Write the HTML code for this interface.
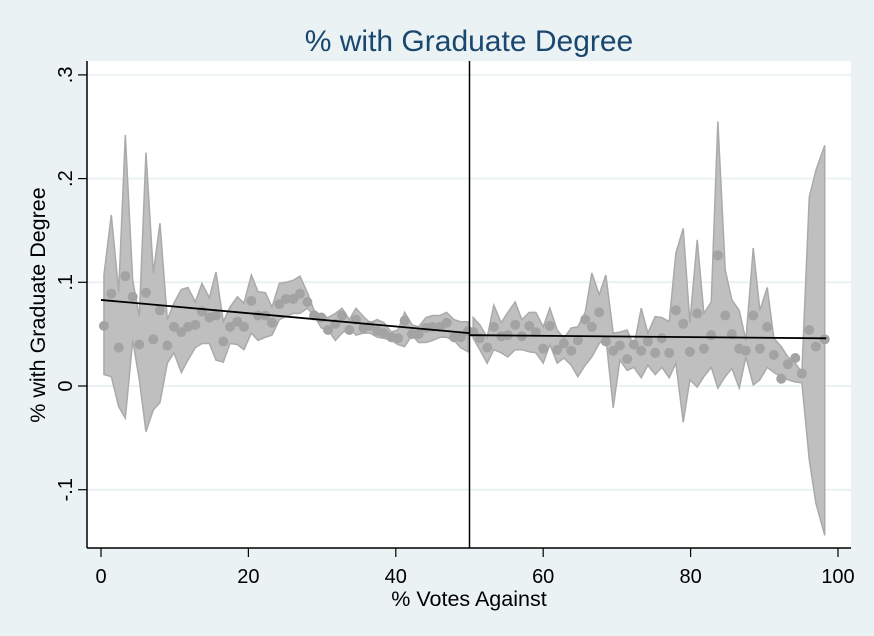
<!DOCTYPE html>
<html><head><meta charset="utf-8"><style>
body{margin:0;background:#eaf2f3;}
svg{display:block;font-family:"Liberation Sans",sans-serif;}
</style></head><body>
<svg id="chart" width="874" height="636">
<rect x="0" y="0" width="874" height="636" fill="#eaf2f3"/>
<rect x="87" y="61" width="764" height="487" fill="#ffffff"/>
<text x="469" y="51" text-anchor="middle" font-size="30" fill="#1a476f">% with Graduate Degree</text>
<text x="469" y="606" text-anchor="middle" font-size="21.5" fill="#000">% Votes Against</text>
<text transform="translate(45,305) rotate(-90)" text-anchor="middle" font-size="21.5" fill="#000">% with Graduate Degree</text>
<g id="grid"></g><g id="band"></g><g id="pts"></g><g id="fit"></g><g id="axes"></g>
</svg>
<script>
const xs=[0.4,1.4,2.4,3.3,4.3,5.2,6.1,7.1,8,9,9.9,10.9,11.8,12.8,13.7,14.7,15.6,16.6,17.5,18.5,19.4,20.4,21.3,22.3,23.2,24.2,25.1,26.1,27,28,28.9,29.9,30.8,31.8,32.7,33.7,34.6,35.6,36.5,37.5,38.4,39.4,40.3,41.2,42.2,43.1,44.1,45,46,46.9,47.9,48.8,49.8,
50.5,51.4,52.4,53.3,54.3,55.2,56.2,57.1,58.1,59,60,60.9,61.9,62.8,63.8,64.7,65.7,66.6,67.6,68.5,69.5,70.4,71.4,72.3,73.3,74.2,75.2,76.1,77.1,78,79,79.9,80.9,81.8,82.8,83.7,84.7,85.6,86.6,87.5,88.5,89.4,90.4,91.3,92.3,93.2,94.2,95.1,96.1,97,98.2];
const means=[.058,.089,.037,.106,.086,.040,.090,.045,.073,.039,.057,.052,.057,.059,.072,.066,.068,.043,.057,.062,.057,.082,.068,.068,.061,.079,.084,.084,.089,.081,.068,.066,.054,.060,.068,.054,.064,.056,.058,.053,.051,.047,.046,.063,.050,.050,.056,.057,.057,.061,.047,.047,.053,
.052,.046,.037,.057,.048,.049,.059,.048,.058,.052,.036,.058,.035,.041,.034,.044,.064,.057,.071,.043,.034,.039,.026,.040,.034,.043,.032,.046,.032,.073,.060,.033,.070,.036,.049,.126,.068,.050,.036,.034,.068,.036,.057,.030,.007,.021,.027,.012,.054,.038,.045];
const upper=[.107,.165,.091,.242,.102,.067,.225,.109,.157,.064,.080,.093,.095,.081,.099,.085,.110,.062,.076,.086,.080,.107,.091,.090,.076,.099,.100,.102,.106,.090,.073,.068,.066,.070,.075,.064,.075,.067,.061,.064,.061,.052,.054,.071,.059,.057,.066,.068,.068,.071,.064,.062,.062,
.066,.059,.047,.078,.061,.071,.081,.064,.071,.071,.057,.075,.054,.046,.056,.057,.071,.109,.088,.107,.051,.052,.054,.038,.075,.051,.067,.066,.062,.128,.152,.061,.141,.070,.081,.255,.112,.083,.073,.044,.133,.073,.095,.046,.038,.028,.022,.013,.182,.208,.232];
const lower=[.011,.009,-.020,-.031,.044,.006,-.044,-.023,-.016,.022,.032,.013,.025,.037,.041,.041,.025,.023,.041,.040,.035,.051,.044,.047,.049,.064,.067,.070,.070,.075,.068,.056,.054,.044,.051,.056,.049,.051,.051,.047,.046,.044,.040,.038,.049,.042,.042,.044,.047,.047,.044,.037,.033,
.046,.035,.022,.035,.032,.028,.035,.035,.033,.032,.022,.040,.022,.027,.020,.009,.020,.028,.041,.047,-.021,.025,.015,.018,.008,.020,.011,.018,.008,.022,-.035,.006,-.001,.009,.018,-.002,.009,.017,-.002,.028,.001,.006,.018,.013,.009,.006,.004,.003,-.071,-.113,-.144];
const fitLeft=[[0,.083],[50,.051]];
const fitRight=[[50,.049],[98.4,.046]];
const xTicks=[0,20,40,60,80,100];
const yTicks=[-.1,0,.1,.2,.3];
const yTickLabels=["-.1","0",".1",".2",".3"];
const cutoff=50;

const X=v=>101+v*7.37;
const Y=v=>386-v*1037;
const NS="http://www.w3.org/2000/svg";
function mk(tag,parent,attrs){const e=document.createElementNS(NS,tag);for(const k in attrs)e.setAttribute(k,attrs[k]);document.getElementById(parent).appendChild(e);return e;}

yTicks.forEach((t,i)=>{
  const g=mk('line','grid',{x1:87,x2:851,y1:Y(t),y2:Y(t),stroke:'#eaf2f3','stroke-width':2});
  
  
  const tk=mk('line','axes',{x1:78,x2:87,y1:Y(t),y2:Y(t),stroke:'#000','stroke-width':1.2});
  
  
  const lb=mk('text','axes',{transform:`translate(72,${Y(t)}) rotate(-90)`,'text-anchor':'middle','font-size':20});
  lb.textContent=yTickLabels[i];
  
  
});
xTicks.forEach(t=>{
  const tk=mk('line','axes',{x1:X(t),x2:X(t),y1:548,y2:557,stroke:'#000','stroke-width':1.2});
  
  
  const lb=mk('text','axes',{x:X(t),y:583,'text-anchor':'middle','font-size':20});
  lb.textContent=t;
  
  
});
const ax1=mk('line','axes',{x1:87,x2:87,y1:61,y2:548,stroke:'#000','stroke-width':1.5});


const ax2=mk('line','axes',{x1:87,x2:851,y1:548,y2:548,stroke:'#000','stroke-width':1.5});



function bandPath(i0,i1){
  let d='';
  for(let i=i0;i<=i1;i++)d+=(i===i0?'M':'L')+X(xs[i])+','+Y(upper[i]);
  for(let i=i1;i>=i0;i--)d+='L'+X(xs[i])+','+Y(lower[i]);
  return d+'Z';
}
const split=xs.findIndex(v=>v>cutoff);
[[0,split-1],[split,xs.length-1]].forEach(([a,b])=>{
  const p=mk('path','band',{d:bandPath(a,b),fill:'#bfbfbf',stroke:'#aaaaaa','stroke-width':1.5});
  
  
});
xs.forEach((v,i)=>{
  const c=mk('circle','pts',{cx:X(v),cy:Y(means[i]),r:5,fill:'#a3a3a3'});
  
  
});
[fitLeft,fitRight].forEach(f=>{
  const l=mk('line','fit',{x1:X(f[0][0]),y1:Y(f[0][1]),x2:X(f[1][0]),y2:Y(f[1][1]),stroke:'#000','stroke-width':1.8});
  
  
});
const vl=mk('line','fit',{x1:X(cutoff),x2:X(cutoff),y1:61,y2:548,stroke:'#000','stroke-width':1.5});


</script>
</body></html>
